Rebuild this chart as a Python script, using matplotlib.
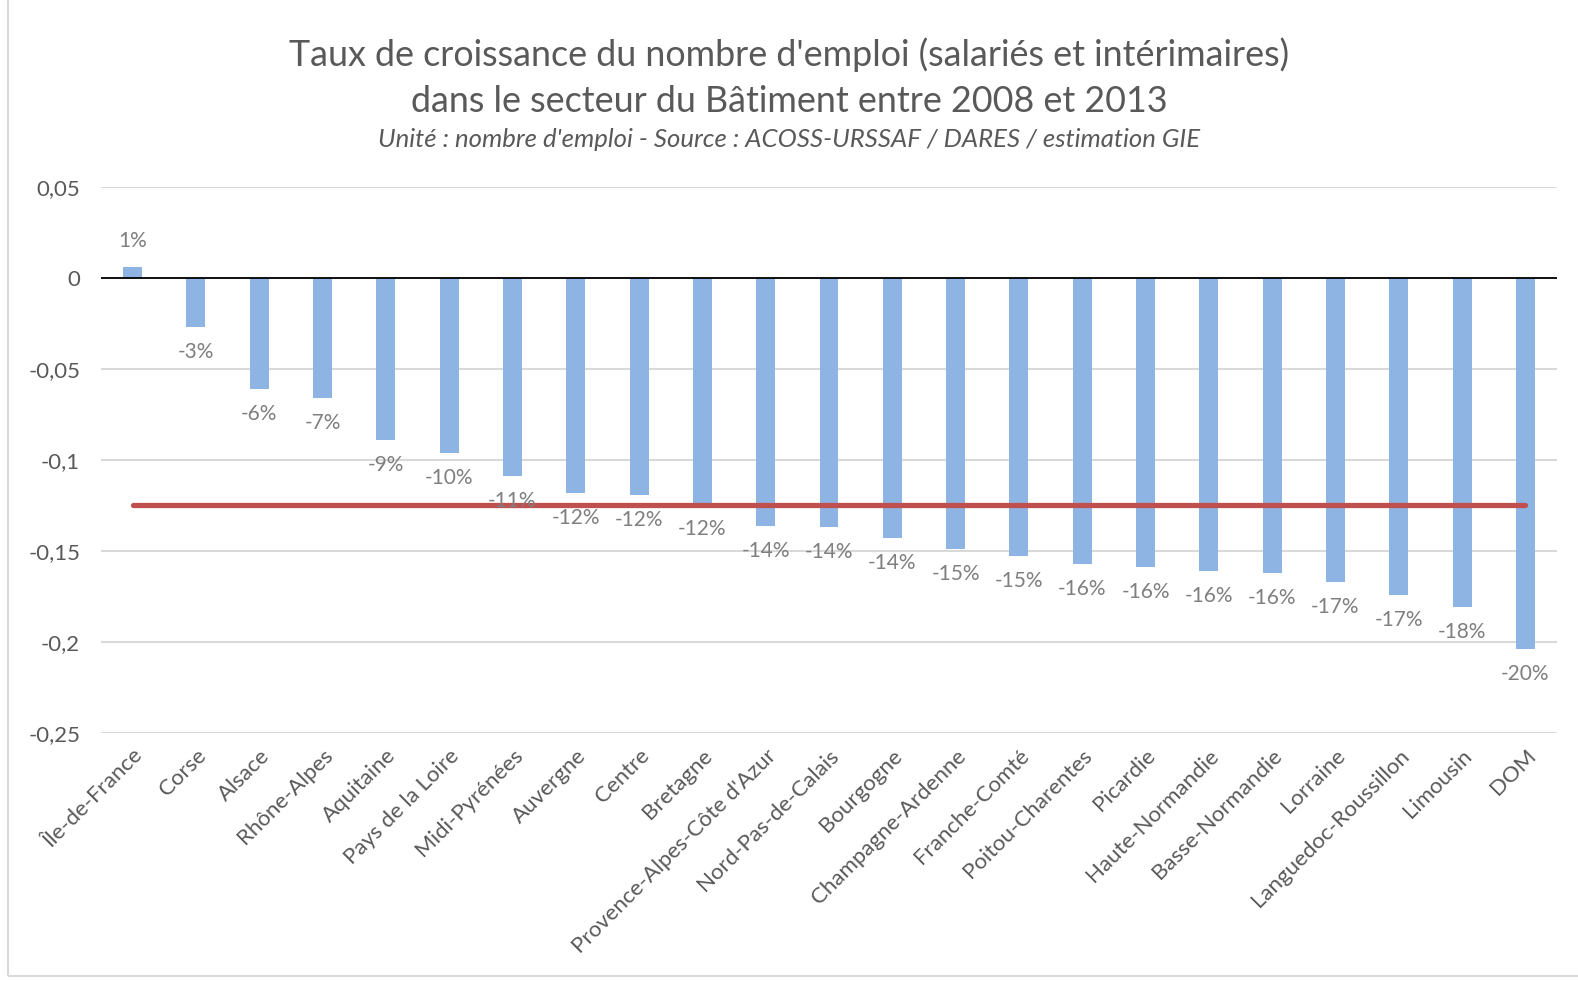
import numpy as np
import matplotlib.pyplot as plt
from matplotlib.patches import Rectangle

plt.rcParams['font.family'] = ['Lato', 'DejaVu Sans']

regions = ['Île-de-France', 'Corse', 'Alsace', 'Rhône-Alpes', 'Aquitaine',
           'Pays de la Loire', 'Midi-Pyrénées', 'Auvergne', 'Centre', 'Bretagne',
           "Provence-Alpes-Côte d'Azur", 'Nord-Pas-de-Calais', 'Bourgogne',
           'Champagne-Ardenne', 'Franche-Comté', 'Poitou-Charentes', 'Picardie',
           'Haute-Normandie', 'Basse-Normandie', 'Lorraine', 'Languedoc-Roussillon',
           'Limousin', 'DOM']
growth = [0.006, -0.027, -0.061, -0.066, -0.089, -0.096, -0.109, -0.118, -0.119,
          -0.124, -0.136, -0.137, -0.143, -0.149, -0.153, -0.157, -0.159, -0.161,
          -0.162, -0.167, -0.174, -0.181, -0.204]
average = -0.125
yticks = [0.05, 0, -0.05, -0.1, -0.15, -0.2, -0.25]
ytick_labels = ['0,05', '0', '-0,05', '-0,1', '-0,15', '-0,2', '-0,25']

fig = plt.figure(figsize=(15.78, 9.81), dpi=100)
ax = fig.add_axes([0.064, 0.2528, 0.9227, 0.5566])

x = np.arange(len(regions))
ax.bar(x, growth, width=0.3, color='#8EB4E3', zorder=2)
ax.plot(x, [average] * len(x), color='#C0504D', lw=3.8, solid_capstyle='round', zorder=3)
ax.axhline(0, color='black', lw=1.3, zorder=2.5)

for xi, v in zip(x, growth):
    off = 19 if v >= 0 else -18
    ax.annotate(f'{round(v * 100):.0f}%', (xi, v), xytext=(0, off),
                textcoords='offset points', ha='center', va='center',
                fontsize=15, color='#7F7F7F', zorder=4)

ax.set_xlim(-0.5, len(regions) - 0.5)
ax.set_ylim(-0.25, 0.05)
ax.set_yticks(yticks)
ax.set_yticklabels(ytick_labels)
ax.set_xticks(x)
ax.set_xticklabels(regions, rotation=45, ha='right', rotation_mode='anchor')
ax.tick_params(axis='both', length=0, colors='#595959', labelsize=16)
ax.tick_params(axis='y', pad=15)
ax.tick_params(axis='x', pad=9)
ax.grid(axis='y', color='#D9D9D9', lw=1.5, zorder=0)
ax.set_axisbelow(True)
for s in ax.spines.values():
    s.set_visible(False)

fig.text(0.5, 0.944, "Taux de croissance du nombre d'emploi (salariés et intérimaires)",
         ha='center', va='center', fontsize=25.8, color='#595959')
fig.text(0.5, 0.897, "dans le secteur du Bâtiment entre 2008 et 2013",
         ha='center', va='center', fontsize=25.8, color='#595959')
fig.text(0.5, 0.858, "Unité : nombre d'emploi - Source : ACOSS-URSSAF / DARES / estimation GIE",
         ha='center', va='center', fontsize=18.5, style='italic', color='#595959')

fig.patches.append(Rectangle((8 / 1578, 5 / 981), 1.0, 1.0, transform=fig.transFigure,
                             fill=False, edgecolor='#D9D9D9', lw=1.5))

fig.savefig('out.png', dpi=100)
